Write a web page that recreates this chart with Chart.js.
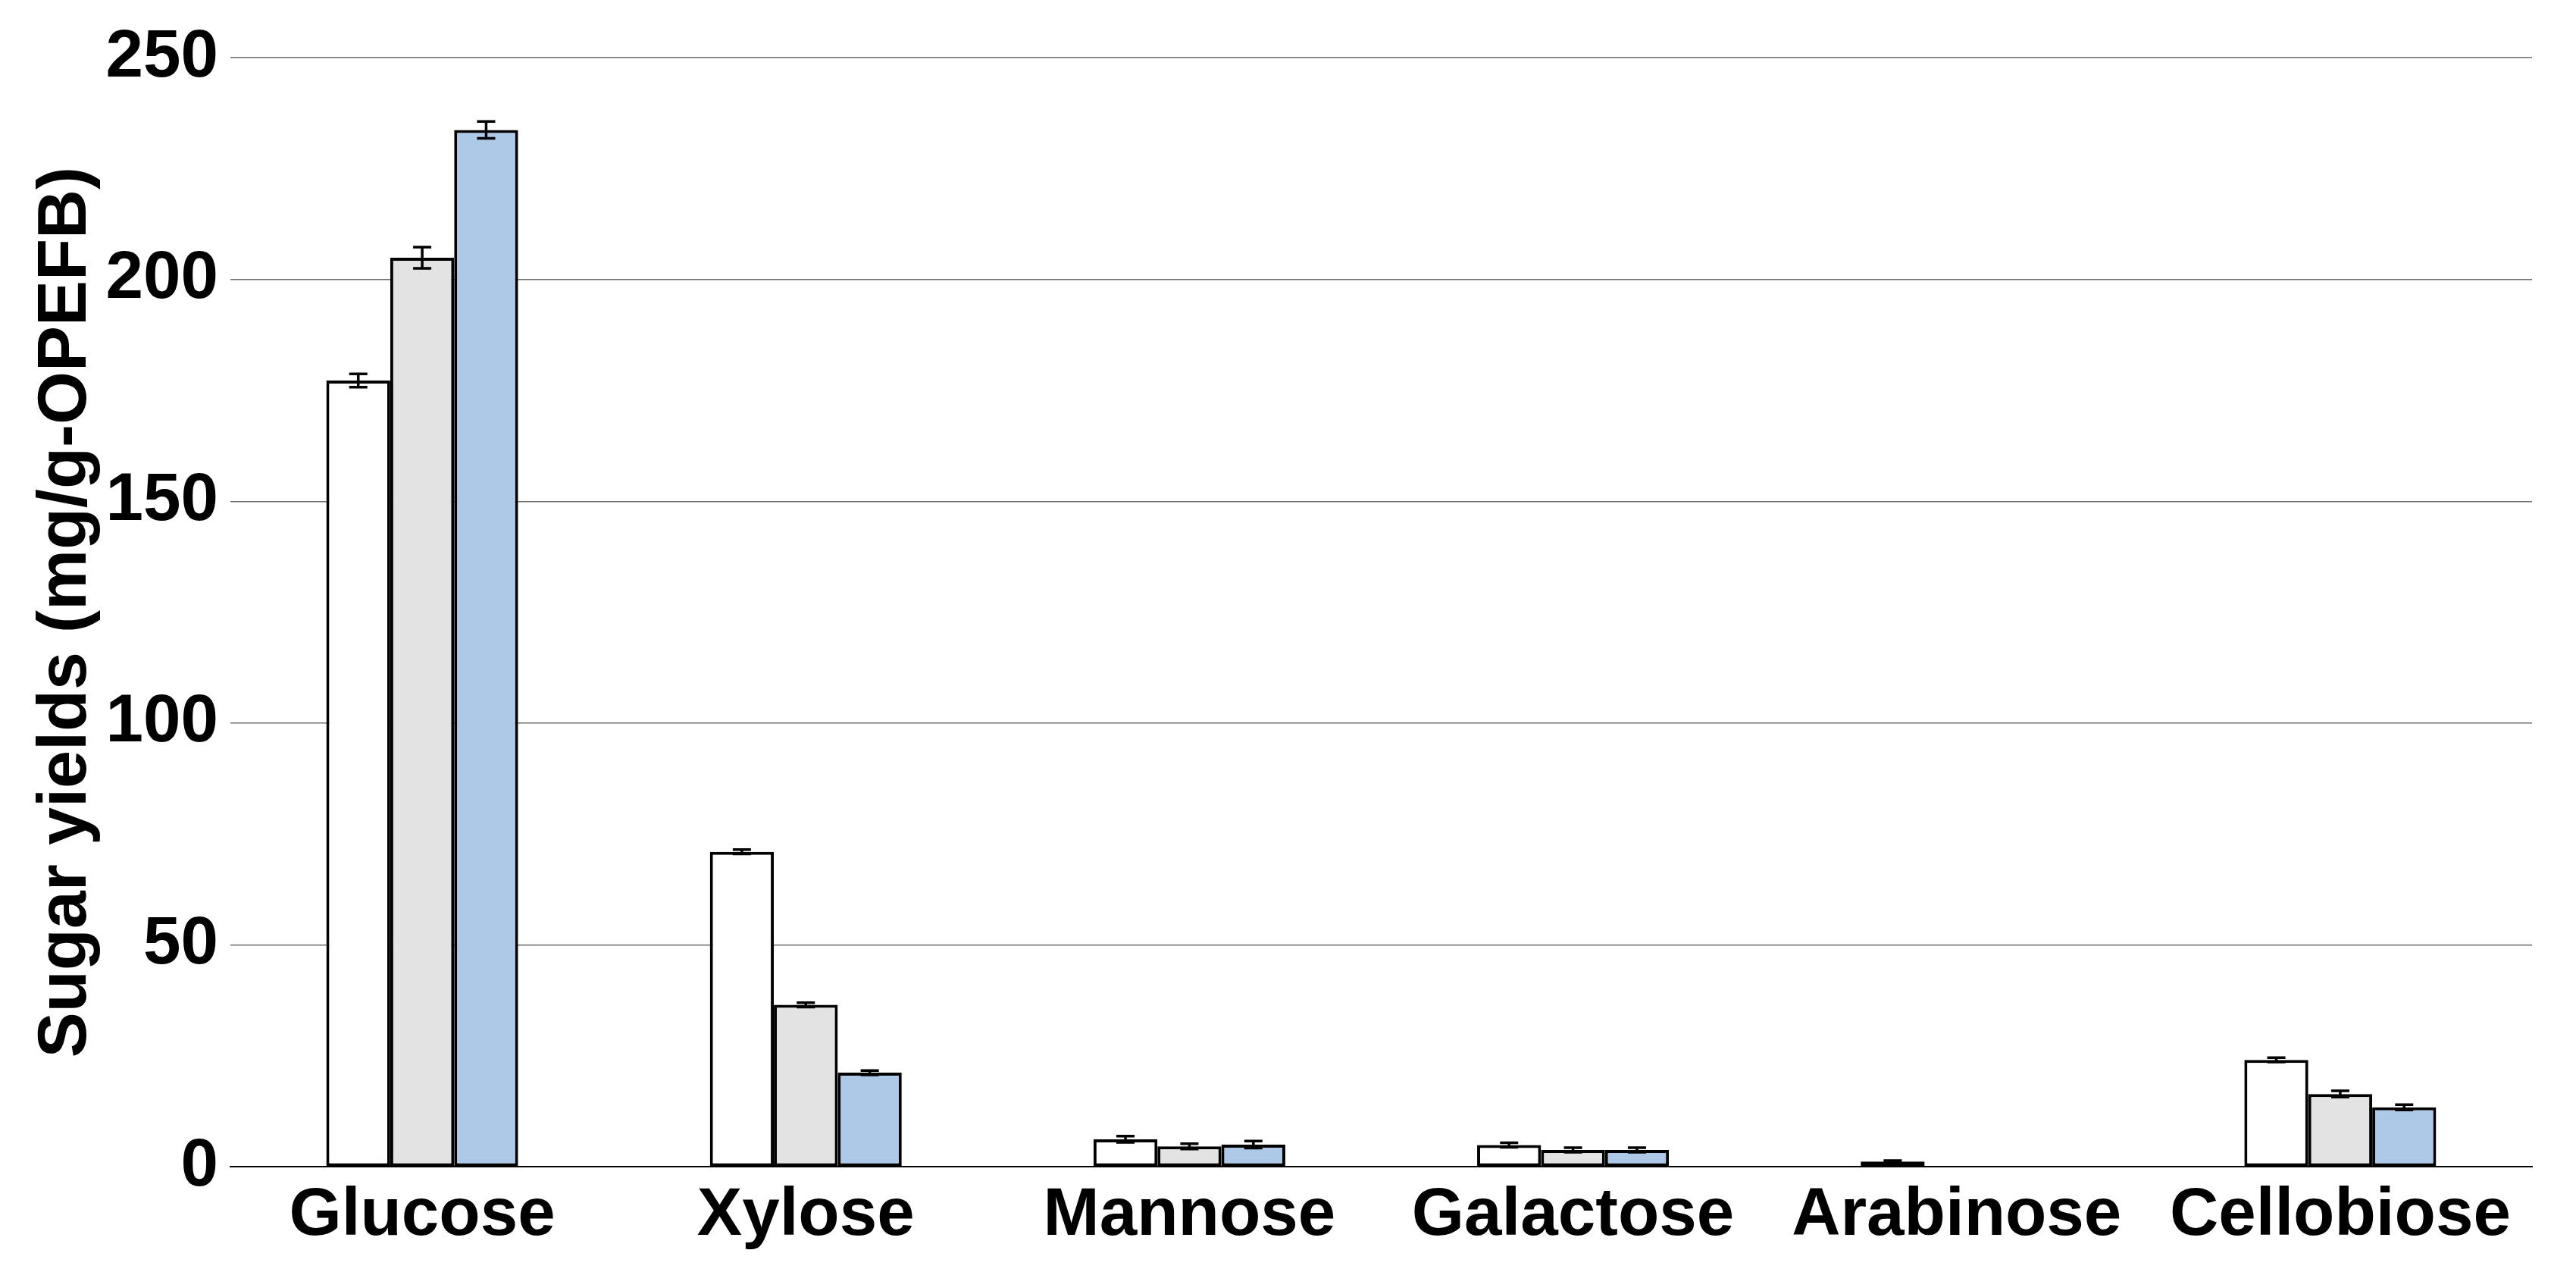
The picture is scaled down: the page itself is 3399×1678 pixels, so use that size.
<!DOCTYPE html>
<html>
<head>
<meta charset="utf-8">
<script src="https://cdn.jsdelivr.net/npm/chart.js@4.4.1/dist/chart.umd.min.js"></script>
<style>
  html, body { margin: 0; padding: 0; background: #fff; }
  #wrap { width: 3399px; height: 1678px; }
</style>
</head>
<body>
<div id="wrap"><canvas id="sugar-chart"></canvas></div>
<script>
const sugars = ['Glucose', 'Xylose', 'Mannose', 'Galactose', 'Arabinose', 'Cellobiose'];
const seriesNames = ['Sample 1', 'Sample 2', 'Sample 3'];

const yieldsA = [177.2, 71.0, 6.2, 4.9, 1.2, 24.1];
const yieldsB = [204.9, 36.5, 4.6, 3.8, null, 16.4];
const yieldsC = [233.7, 21.2, 5.0, 3.8, null, 13.4];

const errA = [1.5, 0.5, 0.7, 0.5, 0.2, 0.5];
const errB = [2.4, 0.5, 0.6, 0.5, 0, 0.7];
const errC = [1.9, 0.5, 0.8, 0.5, 0, 0.6];

const yTicks = [0, 50, 100, 150, 200, 250];

const fillColors = ['#ffffff', '#e3e3e3', '#aec8e8'];

// error bars drawn on top of the bars
const errorBars = {
    id: 'errorBars',
    afterDatasetsDraw(chart) {
        const ctx = chart.ctx;
        const yScale = chart.scales.y;
        ctx.save();
        ctx.strokeStyle = '#000';
        ctx.lineWidth = 3.5;
        chart.data.datasets.forEach((ds, i) => {
            const meta = chart.getDatasetMeta(i);
            meta.data.forEach((bar, j) => {
                const v = ds.data[j];
                if (v === null || !ds.errors[j]) return;
                const top = yScale.getPixelForValue(v + ds.errors[j]);
                const bot = yScale.getPixelForValue(v - ds.errors[j]);
                ctx.beginPath();
                ctx.moveTo(bar.x, top);
                ctx.lineTo(bar.x, bot);
                ctx.moveTo(bar.x - 12, top);
                ctx.lineTo(bar.x + 12, top);
                ctx.moveTo(bar.x - 12, bot);
                ctx.lineTo(bar.x + 12, bot);
                ctx.stroke();
            });
        });
        ctx.restore();
    }
};

const series = [yieldsA, yieldsB, yieldsC];
const errs = [errA, errB, errC];

Chart.defaults.font.family = '"Liberation Sans", Arial, sans-serif';
Chart.defaults.font.weight = 'bold';
Chart.defaults.color = '#000';

const ctx = document.getElementById('sugar-chart').getContext('2d');
const chart = new Chart(ctx, {
    type: 'bar',
    data: {
        labels: sugars,
        datasets: series.map((vals, i) => ({
            label: seriesNames[i],
            data: vals,
            errors: errs[i],
            backgroundColor: fillColors[i],
            borderColor: '#000',
            borderWidth: 4,
            borderSkipped: false,
            categoryPercentage: 0.5,
            barPercentage: 1.0
        }))
    },
    options: {
        responsive: true,
        maintainAspectRatio: false,
        animation: false,
        devicePixelRatio: 1,
        layout: {
            padding: { top: 76, right: 58, bottom: 8, left: 0 }
        },
        plugins: {
            legend: { display: false },
            tooltip: { enabled: false }
        },
        scales: {
            y: {
                min: 0,
                max: 250,
                afterBuildTicks: scale => {
                    scale.ticks = yTicks.map(v => ({ value: v }));
                },
                afterFit: scale => { scale.width = 304; },
                grid: {
                    color: '#6e6e6e',
                    lineWidth: 1.5,
                    drawTicks: false
                },
                border: { display: false },
                ticks: {
                    padding: 16,
                    font: { size: 89, weight: 'bold' }
                },
                title: {
                    display: true,
                    text: 'Sugar yields (mg/g-OPEFB)',
                    font: { size: 90, weight: 'bold' },
                    padding: { top: 34, bottom: 0 }
                }
            },
            x: {
                grid: { display: false, drawTicks: false },
                border: { display: true, color: '#000', width: 2 },
                ticks: {
                    padding: 12,
                    font: { size: 89, weight: 'bold' }
                }
            }
        }
    },
    plugins: [errorBars]
});
</script>
</body>
</html>
